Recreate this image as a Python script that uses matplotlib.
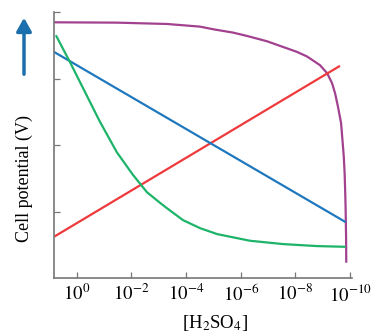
import matplotlib
matplotlib.use('Agg')
import matplotlib.pyplot as plt
import numpy as np

plt.rcParams['font.family'] = 'Liberation Serif'
plt.rcParams['mathtext.fontset'] = 'stix'

# log10([H2SO4]) and cell potential (arbitrary units)
purple_logc = [0.83, -1.47, -3.30, -4.51, -5.00, -5.72, -6.23, -6.96, -7.44, -8.06,
               -8.43, -8.90, -9.16, -9.34, -9.45, -9.56, -9.67, -9.72, -9.77, -9.80,
               -9.82, -9.835, -9.845, -9.855, -9.86]
purple_v = [3.845, 3.84, 3.82, 3.78, 3.74, 3.69, 3.64, 3.56, 3.49, 3.40,
            3.33, 3.20, 3.08, 2.93, 2.78, 2.57, 2.33, 2.08, 1.82, 1.58,
            1.32, 1.07, 0.83, 0.57, 0.23]

red_logc = [0.83, -9.63]
red_v = [0.62, 3.19]

blue_logc = [0.83, -9.84]
blue_v = [3.40, 0.84]

green_logc = [0.76, 0.25, -0.30, -0.85, -1.47, -2.06, -2.57, -3.05, -3.30, -3.89,
              -4.51, -5.14, -6.34, -7.55, -8.79, -9.74, -9.84]
green_v = [3.65, 3.25, 2.80, 2.35, 1.89, 1.55, 1.29, 1.13, 1.05, 0.87,
           0.75, 0.66, 0.56, 0.51, 0.48, 0.47, 0.47]

xtick_exp = [0, -2, -4, -6, -8, -10]

fig = plt.figure(figsize=(3.78, 3.33), dpi=100)
ax = fig.add_axes([54/378, 1 - 278/333, (352 - 54)/378, (278 - 12)/333])

series = [
    (purple_logc, purple_v, '#a2418f'),
    (red_logc, red_v, '#ee3a3c'),
    (blue_logc, blue_v, '#1f78be'),
    (green_logc, green_v, '#1db46a'),
]
for logc, v, col in series:
    ax.plot(10.0 ** np.array(logc), v, color=col, lw=1.6,
            solid_capstyle='butt', solid_joinstyle='round')

ax.set_xscale('log')
ax.set_xlim(10 ** 0.83, 10 ** -10.07)
ax.set_ylim(0, 4)
ax.set_xticks([10.0 ** e for e in xtick_exp])
ax.set_xticklabels(['$10^{%d}$' % e for e in xtick_exp], fontsize=13.5)
ax.xaxis.set_minor_locator(matplotlib.ticker.NullLocator())
ax.set_yticks([1, 2, 3, 4])
ax.set_yticklabels([])
ax.tick_params(direction='in', color='#777777', length=4, width=0.9, pad=4)

for s in ['top', 'right']:
    ax.spines[s].set_visible(False)
for s in ['left', 'bottom']:
    ax.spines[s].set_color('#777777')
    ax.spines[s].set_linewidth(1.2)

ax.set_xlabel('[H$_2$SO$_4$]', fontsize=13.5)
ax.xaxis.set_label_coords(0.54, -0.13)

fig.text(24/378, 1 - 178/333, 'Cell potential (V)', rotation=90, fontsize=13,
         ha='center', va='center')
ax.annotate('', xy=(24, 318), xytext=(24, 256), xycoords='figure pixels',
            textcoords='figure pixels',
            arrowprops=dict(arrowstyle='-|>,head_width=0.45,head_length=0.8',
                            color='#1b6fad', lw=2.5))

fig.savefig('out.png', dpi=100)
